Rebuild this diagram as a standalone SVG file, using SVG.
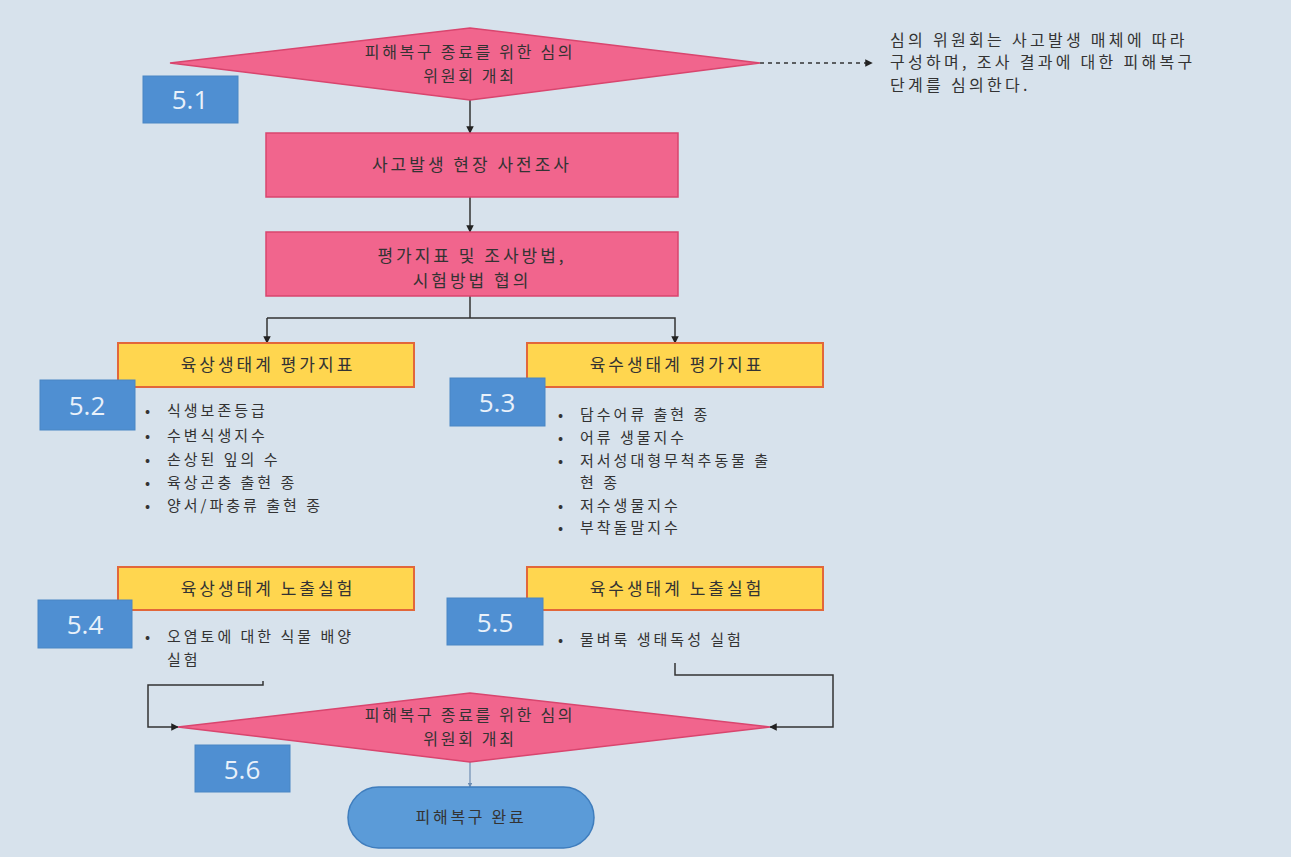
<svg xmlns="http://www.w3.org/2000/svg" width="1291" height="857" viewBox="0 0 1291 857">
<defs>
<style>
.t{font-family:"Noto Sans CJK KR","Noto Sans",sans-serif;fill:#333;}
.c{text-anchor:middle;}
.pink{fill:#f1658d;stroke:#d9456e;stroke-width:1.5;}
.yel{fill:#ffd64f;stroke:#e2673a;stroke-width:2;}
.lab{fill:#4f8fd2;stroke:#4a86c4;stroke-width:1;}
.labt{font-family:"Open Sans","Liberation Sans",sans-serif;font-size:26px;fill:#e9f1fa;text-anchor:middle;}
.ln{fill:none;stroke:#333;stroke-width:1.5;}
.f16{font-size:16px;letter-spacing:2.7px;}
.nt{font-size:16px;letter-spacing:3.3px;}
.f17{font-size:17px;letter-spacing:3px;}
.b{font-size:15px;letter-spacing:3px;}
</style>
<marker id="ar" viewBox="0 0 10 10" refX="9" refY="5" markerWidth="5" markerHeight="5" orient="auto"><path d="M0,0L10,5L0,10z" fill="#222"/></marker>
<marker id="arb" viewBox="0 0 10 10" refX="9" refY="5" markerWidth="4" markerHeight="4" orient="auto"><path d="M0,0L10,5L0,10z" fill="#6d8db3"/></marker>
</defs>
<rect width="1291" height="857" fill="#d7e2ec"/>

<g id="connectors">
<line class="ln" x1="760" y1="63" x2="872" y2="63" stroke-dasharray="4,4" marker-end="url(#ar)"/>
<line class="ln" x1="470" y1="100" x2="470" y2="133" marker-end="url(#ar)"/>
<line class="ln" x1="470" y1="197" x2="470" y2="232" marker-end="url(#ar)"/>
<polyline class="ln" points="470,296 470,318"/>
<polyline class="ln" points="267,318 675,318 675,343" marker-end="url(#ar)"/>
<line class="ln" x1="267" y1="318" x2="267" y2="343" marker-end="url(#ar)"/>
<polyline class="ln" points="263,681 263,685 148,685 148,727 178,727" marker-end="url(#ar)"/>
<polyline class="ln" points="675,663 675,675 833,675 833,727 770,727" marker-end="url(#ar)"/>
<line x1="470" y1="762" x2="470" y2="787" stroke="#6d8db3" stroke-width="1.2" marker-end="url(#arb)"/>
</g>

<g id="n51">
<polygon class="pink" points="170,63 470,28 760,63 470,100"/>
<text class="t c f16" x="470" y="58">피해복구 종료를 위한 심의</text>
<text class="t c f16" x="470" y="82">위원회 개최</text>
</g>
<g id="l51"><rect class="lab" x="143" y="76" width="95" height="47"/><text class="labt" x="190" y="109">5.1</text></g>

<g id="note">
<text class="t nt" x="890" y="46">심의 위원회는 사고발생 매체에 따라</text>
<text class="t nt" x="890" y="68">구성하며, 조사 결과에 대한 피해복구</text>
<text class="t nt" x="890" y="91">단계를 심의한다.</text>
</g>

<g id="r1"><rect class="pink" x="266" y="133" width="412" height="64"/><text class="t c f17" x="472" y="171">사고발생 현장 사전조사</text></g>
<g id="r2"><rect class="pink" x="266" y="232" width="412" height="64"/>
<text class="t c f17" x="472" y="262">평가지표 및 조사방법,</text>
<text class="t c f17" x="472" y="287">시험방법 협의</text></g>

<g id="y1"><rect class="yel" x="118" y="343" width="296" height="44"/><text class="t c f17" x="268" y="371">육상생태계 평가지표</text></g>
<g id="l52"><rect class="lab" x="40" y="380" width="95" height="50"/><text class="labt" x="87" y="415">5.2</text></g>
<g id="list1" class="t b">
<text x="145" y="416">•</text><text x="167" y="416">식생보존등급</text>
<text x="145" y="441">•</text><text x="167" y="441">수변식생지수</text>
<text x="145" y="465">•</text><text x="167" y="465">손상된 잎의 수</text>
<text x="145" y="488">•</text><text x="167" y="488">육상곤충 출현 종</text>
<text x="145" y="511">•</text><text x="167" y="511">양서/파충류 출현 종</text>
</g>

<g id="y2"><rect class="yel" x="527" y="343" width="296" height="44"/><text class="t c f17" x="677" y="371">육수생태계 평가지표</text></g>
<g id="l53"><rect class="lab" x="450" y="378" width="95" height="48"/><text class="labt" x="497" y="412">5.3</text></g>
<g id="list2" class="t b">
<text x="558" y="420">•</text><text x="580" y="420">담수어류 출현 종</text>
<text x="558" y="443">•</text><text x="580" y="443">어류 생물지수</text>
<text x="558" y="466">•</text><text x="580" y="466">저서성대형무척추동물 출</text>
<text x="580" y="488">현 종</text>
<text x="558" y="511">•</text><text x="580" y="511">저수생물지수</text>
<text x="558" y="533">•</text><text x="580" y="533">부착돌말지수</text>
</g>

<g id="y3"><rect class="yel" x="118" y="567" width="296" height="43"/><text class="t c f17" x="268" y="595">육상생태계 노출실험</text></g>
<g id="l54"><rect class="lab" x="38" y="600" width="94" height="48"/><text class="labt" x="85" y="634">5.4</text></g>
<g id="list3" class="t b">
<text x="145" y="642">•</text><text x="167" y="642">오염토에 대한 식물 배양</text>
<text x="167" y="665">실험</text>
</g>

<g id="y4"><rect class="yel" x="527" y="567" width="296" height="43"/><text class="t c f17" x="677" y="595">육수생태계 노출실험</text></g>
<g id="l55"><rect class="lab" x="447" y="598" width="96" height="47"/><text class="labt" x="495" y="632">5.5</text></g>
<g id="list4" class="t b">
<text x="558" y="645">•</text><text x="580" y="645">물벼룩 생태독성 실험</text>
</g>

<g id="n56">
<polygon class="pink" points="178,727 470,693 770,727 470,762"/>
<text class="t c f16" x="470" y="721">피해복구 종료를 위한 심의</text>
<text class="t c f16" x="470" y="745">위원회 개최</text>
</g>
<g id="l56"><rect class="lab" x="195" y="745" width="95" height="47"/><text class="labt" x="242" y="779">5.6</text></g>

<g id="end">
<rect x="348" y="787" width="246" height="61" rx="30.5" fill="#5b9bd8" stroke="#3f7dbd" stroke-width="1.5"/>
<text class="t c f16" x="471" y="823">피해복구 완료</text>
</g>
</svg>
